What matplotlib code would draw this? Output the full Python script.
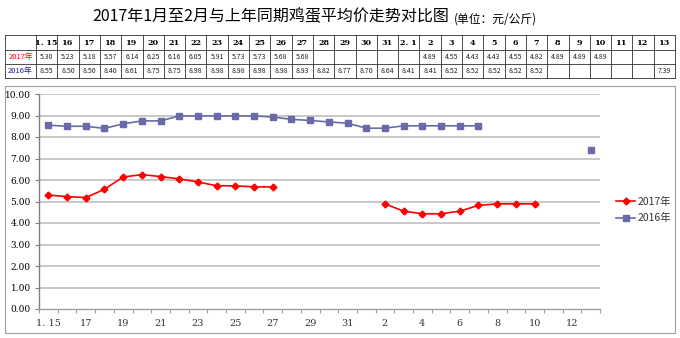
import matplotlib
matplotlib.use("Agg")
import matplotlib.pyplot as plt
import numpy as np
from matplotlib.patches import Rectangle

plt.rcParams['font.family'] = ['Noto Sans CJK SC', 'DejaVu Sans']

categories = ["1.15", "16", "17", "18", "19", "20", "21", "22", "23", "24", "25", "26",
              "27", "28", "29", "30", "31", "2.1", "2", "3", "4", "5", "6", "7", "8",
              "9", "10", "11", "12", "13"]
tick_labels = ["1. 15", "17", "19", "21", "23", "25", "27", "29", "31", "2", "4", "6",
               "8", "10", "12"]
series_2017 = [5.30, 5.23, 5.18, 5.57, 6.14, 6.25, 6.16, 6.05, 5.91, 5.73, 5.73, 5.68,
               5.68, None, None, None, None, None, 4.89, 4.55, 4.43, 4.43, 4.55, 4.82,
               4.89, 4.89, 4.89, None, None, None]
series_2016 = [8.55, 8.50, 8.50, 8.40, 8.61, 8.75, 8.75, 8.98, 8.98, 8.98, 8.98, 8.98,
               8.93, 8.82, 8.77, 8.70, 8.64, 8.41, 8.41, 8.52, 8.52, 8.52, 8.52, 8.52,
               None, None, None, None, None, 7.39]
series_names = ["2017年", "2016年"]
title_main = "2017年1月至2月与上年同期鸡蛋平均价走势对比图"
title_unit = "(单位：元/公斤)"

W, H = 680, 338
fig = plt.figure(figsize=(W / 100, H / 100), dpi=100)

def fx(px):
    return px / W

def fy(py):
    return 1 - py / H

# Title
fig.text(fx(449), fy(17), title_main, ha='right', va='center', fontsize=11.5, color='#000000')
fig.text(fx(454), fy(19), title_unit, ha='left', va='center', fontsize=8.5, color='#000000')

# ---------- Table ----------
tab = fig.add_axes([fx(5), fy(78), fx(670), (78 - 35) / H])
tab.set_xlim(5, 675)
tab.set_ylim(78, 35)
tab.axis('off')
col_edges = [5, 36] + list(np.linspace(36, 675, len(categories) + 1)[1:])
row_edges = [35, 50, 64, 78]
lc = '#303030'
for xe in col_edges:
    tab.plot([xe, xe], [35, 78], color=lc, lw=0.6, clip_on=False)
for ye in row_edges:
    tab.plot([5, 675], [ye, ye], color=lc, lw=0.6, clip_on=False)
centers = [(col_edges[i] + col_edges[i + 1]) / 2 for i in range(len(col_edges) - 1)]
rows_y = [(row_edges[i] + row_edges[i + 1]) / 2 for i in range(3)]
for i, c in enumerate(categories):
    tab.text(centers[i + 1], rows_y[0], c.replace("1.15", "1. 15").replace("2.1", "2. 1"),
             ha='center', va='center', fontsize=5.8, fontweight='bold',
             family=['DejaVu Serif'])
tab.text(centers[0], rows_y[1], series_names[0], ha='center', va='center', fontsize=5.5, color='#FF0000')
tab.text(centers[0], rows_y[2], series_names[1], ha='center', va='center', fontsize=5.5, color='#1F1FA0')
for i, (a, b) in enumerate(zip(series_2017, series_2016)):
    if a is not None:
        tab.text(centers[i + 1], rows_y[1], f"{a:.2f}", ha='center', va='center',
                 fontsize=5, color='#222222')
    if b is not None:
        tab.text(centers[i + 1], rows_y[2], f"{b:.2f}", ha='center', va='center',
                 fontsize=5, color='#222222')

# ---------- Chart frame ----------
fig.patches.append(Rectangle((fx(5), fy(333)), fx(670), (333 - 86) / H,
                             transform=fig.transFigure, fill=False,
                             edgecolor='#A0A0A0', lw=0.8))

ax = fig.add_axes([fx(39), fy(309), fx(600 - 39), (309 - 94) / H])
x = np.arange(len(categories))
y17 = np.array([np.nan if v is None else v for v in series_2017])
y16 = np.array([np.nan if v is None else v for v in series_2016])

ax.set_xlim(-0.5, len(categories) - 0.5)
ax.set_ylim(0, 10)
for v in range(1, 11):
    ax.axhline(v, color='#BFBFBF', lw=1.2, zorder=0)

l16, = ax.plot(x, y16, color='#6A6AA8', lw=1.2, marker='s', markersize=5,
               markerfacecolor='#6A6AA8', markeredgecolor='#6A6AA8', zorder=3)
l17, = ax.plot(x, y17, color='#FF0000', lw=1.2, marker='D', markersize=3.5,
               markerfacecolor='#FF0000', markeredgecolor='#FF0000', zorder=4)

for s in ['top', 'right']:
    ax.spines[s].set_visible(False)
ax.spines['left'].set_color('#808080')
ax.spines['bottom'].set_color('#A0A0A0')
ax.spines['left'].set_linewidth(1.0)
ax.spines['bottom'].set_linewidth(1.0)

ax.set_yticks(np.arange(0, 11, 1))
ax.set_yticklabels([f"{v:.2f}" for v in range(0, 11)], fontsize=6.5, family=['DejaVu Serif'])
ax.tick_params(axis='y', length=3, color='#808080', pad=3)

ax.set_xticks(np.arange(-0.5, len(categories), 1))
ax.set_xticklabels([])
ax.tick_params(axis='x', which='major', length=3, color='#A0A0A0', direction='out')
ax.set_xticks(x[::2], minor=True)
ax.set_xticklabels(tick_labels, minor=True, fontsize=7, family=['DejaVu Serif'], color='#333333')
ax.tick_params(axis='x', which='minor', length=0, pad=7)

leg = fig.legend([l17, l16], series_names, loc='center left',
                 bbox_to_anchor=(fx(607), fy(210)), frameon=False, fontsize=7.5,
                 handlelength=1.8, handletextpad=0.2, labelspacing=0.6)
for t in leg.get_texts():
    t.set_color('#333333')

fig.savefig("out.png", dpi=100)
